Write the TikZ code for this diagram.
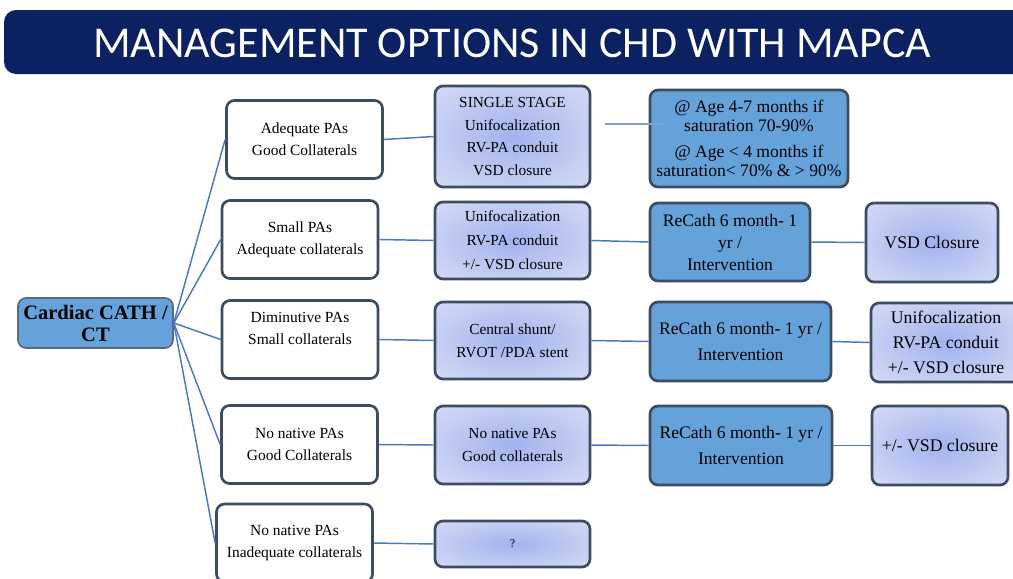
\documentclass[tikz,border=0pt]{standalone}
\usepackage{fontspec}
\setmainfont{Liberation Serif}
\newfontfamily\titlefont{Carlito}
\definecolor{navy}{HTML}{0B2162}
\definecolor{boxline}{HTML}{3E4C62}
\definecolor{cathblue}{HTML}{65A2DA}
\definecolor{wireblue}{HTML}{4A78C6}
\definecolor{glowin}{HTML}{A2B2EE}
\definecolor{glowmid}{HTML}{C6D0F3}
\definecolor{glowout}{HTML}{E4E8F8}
\pgfdeclareradialshading{glow}{\pgfpoint{0bp}{0bp}}{color(0bp)=(glowin); color(25bp)=(glowmid); color(50bp)=(glowout); color(72bp)=(glowout)}
\begin{document}
\begin{tikzpicture}[x=0.75pt,y=-0.75pt,
    font=\fontsize{11.6}{16.5}\selectfont,
    wire/.style={draw=wireblue, line width=1.1pt},
    box/.style={draw=boxline, line width=2pt, rounded corners=6pt, align=center, inner sep=2pt},
    optbox/.style={box, fill=white, minimum width=117pt, minimum height=58.5pt},
    planbox/.style={box, shading=glow, minimum width=116.25pt},
    cathbox/.style={box, fill=cathblue, font=\fontsize{13.2}{19.5}\selectfont},
    endbox/.style={box, shading=glow, font=\fontsize{13.3}{19}\selectfont}]
    \clip (0,0) rectangle (1013,578);
    % title
    \fill[navy, rounded corners=9pt] (4,10) rectangle (1040,74);
    \node[text=white, font=\titlefont\fontsize{33}{40}\selectfont] (title) at (512,43) {MANAGEMENT OPTIONS IN CHD WITH MAPCA};

    % root
    \node[box, fill=cathblue, draw=boxline!85, line width=1.2pt, minimum width=116.25pt, minimum height=37.5pt, font=\bfseries\fontsize{15.4}{16.5}\selectfont] (A) at (95.5,323) {Cardiac CATH /\\CT};

    % anatomy
    \node[optbox] (B1) at (304.5,139.5) {Adequate PAs\\Good Collaterals};
    \node[optbox] (B2) at (300,239.5) {Small PAs\\Adequate collaterals};
    \node[optbox] (B3) at (300,339.5) {Diminutive PAs\\Small collaterals\\~};
    \node[optbox] (B4) at (299.5,444.5) {No native PAs\\Good Collaterals};
    \node[optbox] (B5) at (294.5,543) {No native PAs\\Inadequate collaterals};

    % first step
    \node[planbox, minimum height=75.75pt, font=\fontsize{11.5}{17}\selectfont] (C1) at (512.5,136.5) {SINGLE STAGE\\Unifocalization\\RV-PA conduit\\VSD closure};
    \node[planbox, minimum height=57.75pt, font=\fontsize{11.5}{18}\selectfont] (C2) at (512.5,240.5) {Unifocalization\\RV-PA conduit\\+/- VSD closure};
    \node[planbox, minimum height=57.75pt, font=\fontsize{11.5}{17.25}\selectfont] (C3) at (512.5,340.5) {Central shunt/\\RVOT /PDA stent};
    \node[planbox, minimum height=58.5pt, font=\fontsize{11.5}{17.25}\selectfont] (C4) at (512.5,445) {No native PAs\\Good collaterals};
    \node[planbox, minimum height=34.5pt, font=\fontsize{9}{11}\selectfont] (C5) at (512.5,544) {?};

    % recath
    \node[cathbox, minimum width=148.5pt, minimum height=72.75pt, font=\fontsize{13.2}{14.25}\selectfont] (D1) at (749,138.5) {@ Age 4-7 months if\\saturation 70-90\%\\[5pt]@ Age < 4 months if\\saturation< 70\% \& > 90\%};
    \node[cathbox, minimum width=120pt, minimum height=58.5pt, font=\fontsize{13.2}{16.5}\selectfont] (D2) at (730,242) {ReCath 6 month- 1\\yr /\\Intervention};
    \node[cathbox, minimum width=135.75pt, minimum height=59.25pt] (D3) at (740.5,341.5) {ReCath 6 month- 1 yr /\\Intervention};
    \node[cathbox, minimum width=136.5pt, minimum height=59.25pt] (D4) at (741,445.5) {ReCath 6 month- 1 yr /\\Intervention};

    % final step
    \node[endbox, minimum width=99pt, minimum height=59.25pt] (E2) at (932,242.5) {VSD Closure};
    \node[endbox, minimum width=112.5pt, minimum height=59.25pt] (E3) at (946,342.5) {Unifocalization\\RV-PA conduit\\+/- VSD closure};
    \node[endbox, minimum width=102pt, minimum height=59.25pt] (E4) at (940,445.5) {+/- VSD closure};

    \draw[wire] (A.east)--(B1.west);
    \draw[wire] (A.east)--(B2.west);
    \draw[wire] (A.east)--(B3.west);
    \draw[wire] (A.east)--(B4.west);
    \draw[wire] (A.east)--(B5.west);

    \draw[wire] (B1.east)--(C1.west);
    \draw[wire] (B2.east)--(C2.west);
    \draw[wire] (B3.east)--(C3.west);
    \draw[wire] (B4.east)--(C4.west);
    \draw[wire] (B5.east)--(C5.west);

    \coordinate (g1) at (605,124);
    \coordinate (g2) at (665,124);
    \draw[wire, draw=wireblue!70] (g1)--(g2);
    \draw[wire] (C2.east)--(D2.west);
    \draw[wire] (C3.east)--(D3.west);
    \draw[wire] (C4.east)--(D4.west);

    \draw[wire] (D2.east)--(E2.west);
    \draw[wire] (D3.east)--(E3.west);
    \draw[wire] (D4.east)--(E4.west);
\end{tikzpicture}
\end{document}
